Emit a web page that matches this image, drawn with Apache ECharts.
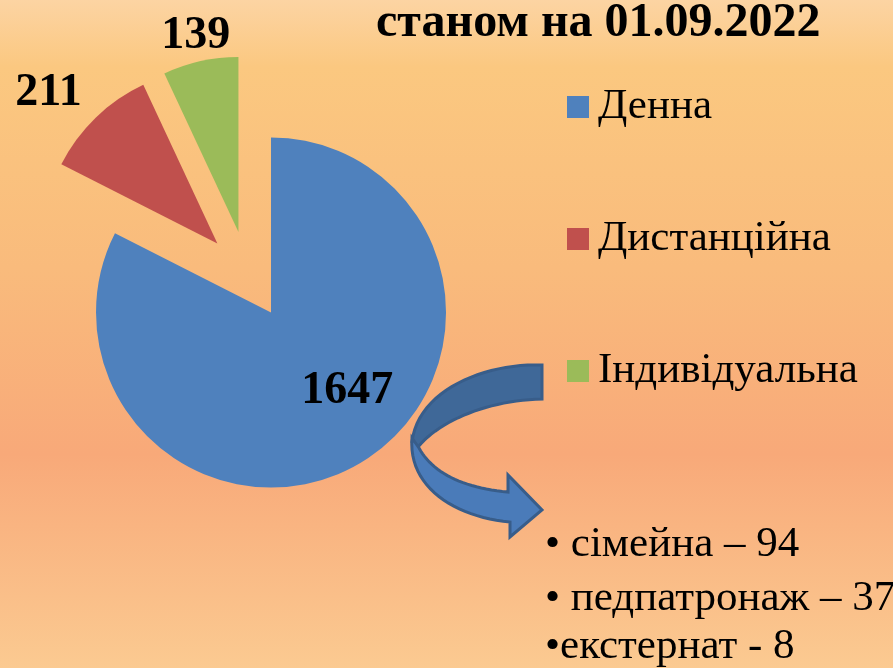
<!DOCTYPE html>
<html>
<head>
<meta charset="utf-8">
<script src="https://cdn.jsdelivr.net/npm/echarts@6/dist/echarts.min.js"></script>
<style>
    html, body { margin: 0; padding: 0; }
    #chart { width: 893px; height: 668px; }
</style>
</head>
<body>
<div id="chart"></div>
<script>
// дані діаграми
const categories = ['Денна', 'Дистанційна', 'Індивідуальна'];
const values = [1647, 211, 139];
const colors = ['#4f81bd', '#c0504d', '#9bbb59'];
const titleText = 'станом на 01.09.2022';

// розподіл індивідуальної форми
const subNames = ['сімейна', 'педпатронаж', 'екстернат'];
const subValues = [94, 37, 8];
const subBullets = ['• ', '• ', '•'];
const subSeps = [' – ', ' – ', ' - '];

// зсув підписів значень відносно сектора
const labelShift = [[29, 1], [-106, -85], [-23, -108]];

const serif = '"Liberation Serif"';

const chart = echarts.init(document.getElementById('chart'));

// точки кривої Безьє для стрілки
function bez(p0, p1, p2, p3, n) {
    const pts = [];
    for (let i = 0; i <= n; i++) {
        const t = i / n, u = 1 - t;
        pts.push([
            u * u * u * p0[0] + 3 * u * u * t * p1[0] + 3 * u * t * t * p2[0] + t * t * t * p3[0],
            u * u * u * p0[1] + 3 * u * u * t * p1[1] + 3 * u * t * t * p2[1] + t * t * t * p3[1]
        ]);
    }
    return pts;
}

const arrowBack = bez([542, 365], [485, 363], [418, 390], [412, 442], 24)
    .concat(bez([418, 447], [440, 420], [490, 400], [542, 399], 24));
const arrowFront = bez([412, 438], [408, 487], [455, 517], [510, 522], 24)
    .concat([[510, 537], [542, 510], [508, 475], [508, 492]])
    .concat(bez([508, 492], [462, 488], [432, 472], [419, 448], 24));

const bulletTexts = subNames.map((n, i) => subBullets[i] + n + subSeps[i] + subValues[i]);
const bulletY = [545, 599, 647];

const option = {
    animation: false,
    backgroundColor: {
        type: 'linear', x: 0, y: 0, x2: 0, y2: 1,
        colorStops: [
            { offset: 0, color: '#fcd4a3' },
            { offset: 0.1, color: '#fbc880' },
            { offset: 0.4, color: '#f9bb7c' },
            { offset: 0.68, color: '#f8a979' },
            { offset: 1, color: '#fbca91' }
        ]
    },
    title: {
        text: titleText,
        left: 376,
        top: 0,
        padding: 0,
        textStyle: { fontFamily: serif, fontWeight: 'bold', fontSize: 48, color: '#000' }
    },
    legend: {
        orient: 'vertical',
        left: 567,
        top: 85,
        padding: 0,
        itemGap: 88,
        itemWidth: 22,
        itemHeight: 22,
        icon: 'rect',
        selectedMode: false,
        data: categories,
        textStyle: {
            fontFamily: serif,
            fontSize: 43,
            color: '#000',
            lineHeight: 44,
            padding: [0, 0, 0, 4]
        }
    },
    series: [{
        type: 'pie',
        center: [248, 275],
        radius: 175,
        startAngle: 90,
        selectedMode: 'multiple',
        selectedOffset: 44,
        avoidLabelOverlap: false,
        emphasis: { disabled: true },
        select: { itemStyle: { borderWidth: 0 } },
        label: {
            position: 'inside',
            formatter: '{c}',
            fontFamily: serif,
            fontWeight: 'bold',
            fontSize: 46,
            color: '#000'
        },
        labelLine: { show: false },
        labelLayout: function (params) {
            const s = labelShift[params.dataIndex];
            return { dx: s[0], dy: s[1] };
        },
        data: categories.map((name, i) => ({
            name: name,
            value: values[i],
            selected: true,
            itemStyle: { color: colors[i] }
        }))
    }],
    graphic: [
        {
            type: 'polygon',
            shape: { points: arrowBack },
            style: { fill: '#3f6898', stroke: '#385d8a', lineWidth: 3 }
        },
        {
            type: 'polygon',
            shape: { points: arrowFront },
            style: { fill: '#4a7bb9', stroke: '#385d8a', lineWidth: 3 }
        }
    ].concat(bulletTexts.map((t, i) => ({
        type: 'text',
        x: 545,
        y: bulletY[i],
        style: {
            text: t,
            font: '43px ' + serif,
            fill: '#000',
            verticalAlign: 'middle'
        }
    })))
};

chart.setOption(option);
</script>
</body>
</html>
